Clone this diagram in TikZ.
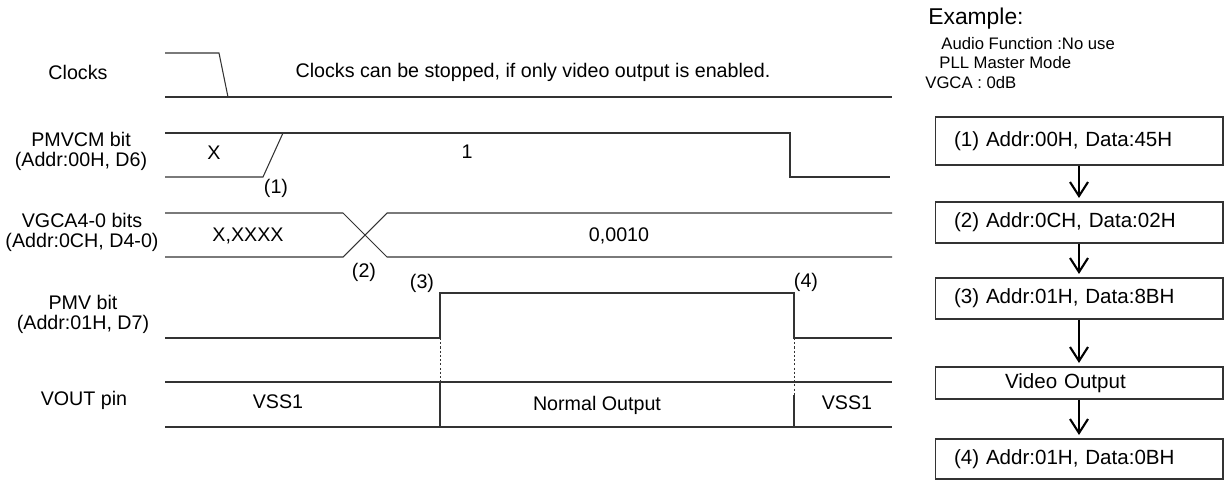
\documentclass[tikz,border=0pt]{standalone}
\usepackage{fontspec}
\setmainfont{Liberation Sans}
\usetikzlibrary{arrows.meta}

\tikzset{
  sig/.style={line width=0.6pt, draw=black!80},
  tick/.style={sig, line width=0.45pt, dash pattern=on 1.2pt off 1.2pt},
  rowname/.style={align=center, inner sep=0pt, font=\fontsize{11.2}{11.3}\selectfont},
  val/.style={inner sep=0pt, font=\fontsize{11.2}{13}\selectfont},
  note/.style={anchor=west, inner sep=0pt, font=\fontsize{9.5}{11}\selectfont},
  regbox/.style={draw=black!80, line width=0.6pt, minimum width=5.76cm, text width=5cm,
    inner xsep=0.38cm, inner ysep=0pt, align=left, font=\fontsize{11.7}{13}\selectfont},
  flow/.style={-{Straight Barb[length=0.28cm,width=0.36cm]}, line width=1.2pt, shorten >=2pt}
}

\begin{document}
\begin{tikzpicture}[x=0.02cm,y=-0.02cm]
    \useasboundingbox (0,0) rectangle (1226,480);
    % row names
    \node[rowname] (lclk) at (78,72) {Clocks};
    \node[rowname] (lpmvcm) at (81,151) {PMVCM bit\\(Addr:00H, D6)};
    \node[rowname] (lvgca) at (82,232) {VGCA4-0 bits\\(Addr:0CH, D4-0)};
    \node[rowname] (lpmv) at (83,314) {PMV bit\\(Addr:01H, D7)};
    \node[rowname] (lvout) at (84,400) {VOUT pin};
    % clocks
    \draw[sig] (165,53) -- (219,53) -- (228,97);
    \draw[sig] (165,97) -- (892,97);
    \node[val] (clktxt) at (533,72) {Clocks can be stopped, if only video output is enabled.};
    % PMVCM bit
    \draw[sig] (165,133) -- (790,133) -- (790,177) -- (890,177);
    \draw[sig] (165,177) -- (263,177) -- (283,133);
    \node[val] (pmvcmx) at (214,153) {X};
    \node[val] (pmvcm1) at (467,152) {1};
    \node[val] (e1) at (276,188) {(1)};
    % VGCA4-0 bits
    \draw[sig] (165,213) -- (343,213) -- (387,257) -- (892,257);
    \draw[sig] (165,257) -- (343,257) -- (387,213) -- (892,213);
    \node[val] (vgcax) at (248,236) {X,XXXX};
    \node[val] (vgcav) at (619,236) {0,0010};
    \node[val] (e2) at (364,272) {(2)};
    % PMV bit
    \draw[sig] (165,338) -- (440,338) -- (440,293) -- (794,293) -- (794,338) -- (892,338);
    \node[val] (e3) at (422,283) {(3)};
    \node[val] (e4) at (806,282) {(4)};
    \draw[tick] (440,338) -- (440,382);
    \draw[tick] (794,338) -- (794,395);
    % VOUT pin
    \draw[sig] (165,382) -- (892,382);
    \draw[sig] (165,427) -- (892,427);
    \draw[sig] (440,382) -- (440,427);
    \draw[sig] (794,395) -- (794,427);
    \node[val] (vss1a) at (278,402) {VSS1};
    \node[val] (normout) at (597,405) {Normal Output};
    \node[val] (vss1b) at (847,403) {VSS1};
    % example sequence
    \node[anchor=west, inner sep=0pt, font=\fontsize{13}{15}\selectfont] (ex) at (928,19) {Example:};
    \node[note] (n1) at (941,44) {Audio Function :No use};
    \node[note] (n2) at (939,63) {PLL Master Mode};
    \node[note] (n3) at (925,83) {VGCA : 0dB};
    \node[regbox, minimum height=0.96cm] (s1) at (1079,141) {(1) Addr:00H, Data:45H};
    \node[regbox, minimum height=0.82cm] (s2) at (1079,222.5) {(2) Addr:0CH, Data:02H};
    \node[regbox, minimum height=0.82cm] (s3) at (1079,298.5) {(3) Addr:01H, Data:8BH};
    \node[regbox, minimum height=0.64cm] (vid) at (1079,383) {\hspace*{1.02cm}Video Output};
    \node[regbox, minimum height=0.8cm] (s4) at (1079,459) {(4) Addr:01H, Data:0BH};
    \draw[flow] (s1) -- (s2);
    \draw[flow] (s2) -- (s3);
    \draw[flow] (s3) -- (vid);
    \draw[flow] (vid) -- (s4);
\end{tikzpicture}
\end{document}
